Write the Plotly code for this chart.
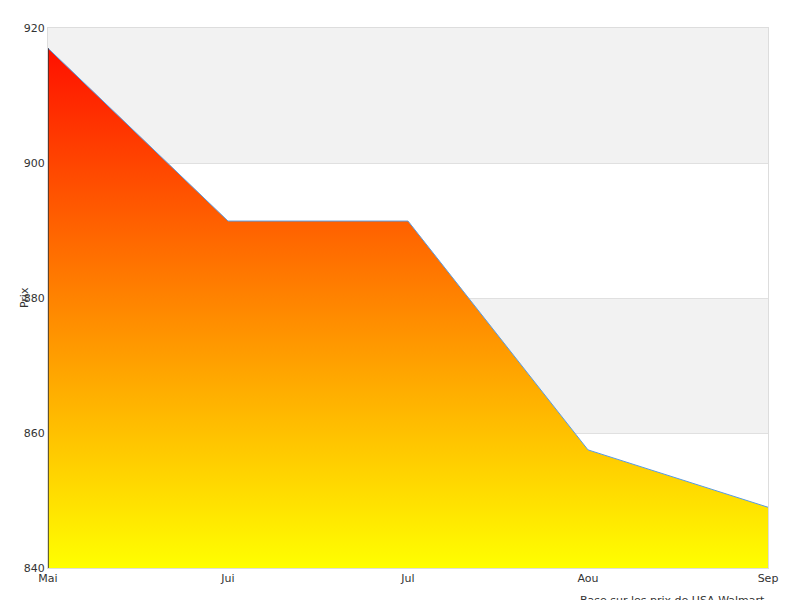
import plotly.graph_objects as go

months = ["Mai", "Jui", "Jul", "Aou", "Sep"]
prices = [917, 891.4, 891.4, 857.5, 849]
bands = [(900, 920), (860, 880)]

fig = go.Figure()
fig.add_trace(go.Scatter(
    x=months, y=prices, mode="lines", line=dict(color="#5a9be0", width=1),
    fill="tozeroy",
    fillgradient=dict(type="vertical", start=840, stop=917,
                      colorscale=[[0, "#ffff00"], [1, "#ff1000"]]),
    showlegend=False))
for lo, hi in bands:
    fig.add_shape(type="rect", xref="paper", yref="y", x0=0, x1=1, y0=lo, y1=hi,
                  fillcolor="#f2f2f2", line_width=0, layer="below")
fig.add_shape(type="line", xref="x", yref="y", x0=0, x1=0, y0=840, y1=prices[0],
              line=dict(color="#333", width=1.5))
fig.update_layout(
    width=800, height=600, margin=dict(l=40, r=40, t=20, b=40, autoexpand=False),
    plot_bgcolor="white", paper_bgcolor="white",
    font=dict(family="DejaVu Sans", size=11, color="#333"),
    xaxis=dict(range=[0, 4], showgrid=False, zeroline=False, showline=True,
               linecolor="#ddd", mirror=True, ticks="", automargin=False),
    yaxis=dict(range=[840, 920], dtick=20, gridcolor="#e0e0e0", zeroline=False,
               showline=True, linecolor="#ddd", mirror=True, automargin=False),
    annotations=[
        dict(text="Prix", xref="paper", yref="paper", x=-0.045, y=0.5, textangle=-90,
             showarrow=False, font=dict(size=11)),
        dict(text="Base sur les prix de USA Walmart", xref="paper", yref="paper",
             x=0.998, y=-0.045, xanchor="right", yanchor="top", showarrow=False,
             font=dict(size=11)),
    ],
)
fig.write_html("out.html")
